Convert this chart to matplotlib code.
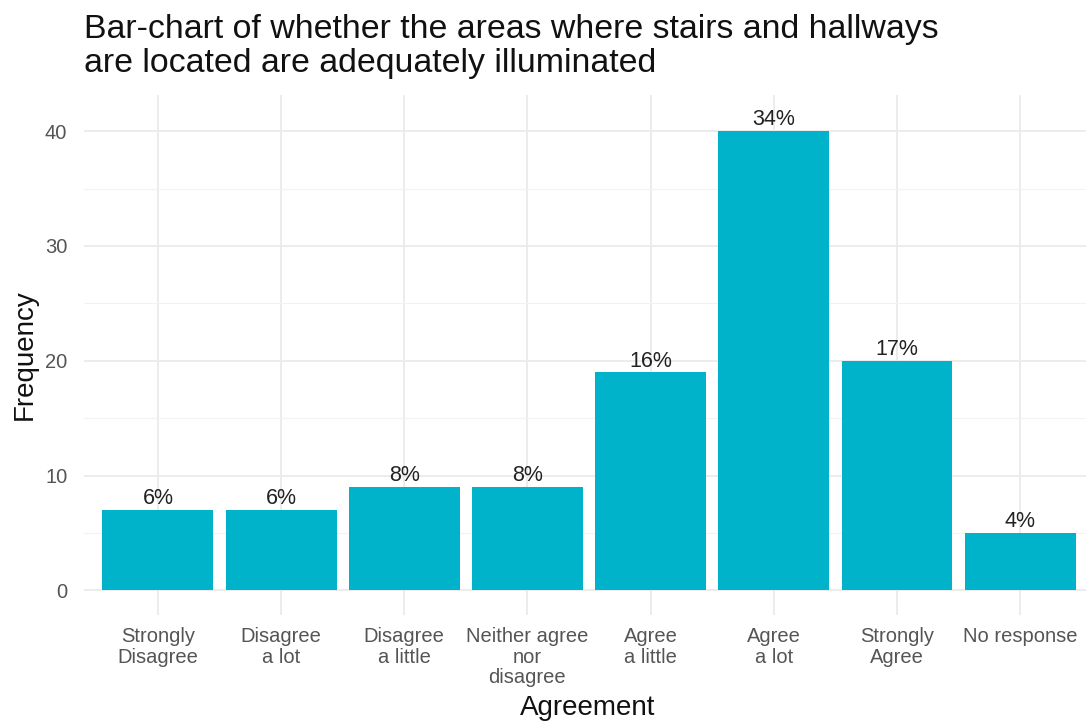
import matplotlib
matplotlib.use("Agg")
import matplotlib.pyplot as plt
import numpy as np

plt.rcParams['font.family'] = ['Liberation Sans', 'DejaVu Sans']

categories = ["Strongly\nDisagree", "Disagree\na lot", "Disagree\na little",
              "Neither agree\nnor\ndisagree", "Agree\na little", "Agree\na lot",
              "Strongly\nAgree", "No response"]
counts = [7, 7, 9, 9, 19, 40, 20, 5]
pct_labels = ["6%", "6%", "8%", "8%", "16%", "34%", "17%", "4%"]
y_ticks = [0, 10, 20, 30, 40]
y_minor = [5, 15, 25, 35]

W, H = 1086, 722
fig = plt.figure(figsize=(W / 100, H / 100), dpi=100)
# panel in pixel coords: left 84, right 1094, top 95, bottom 615
L, R, T, B = 84, 1094, 95, 615
ax = fig.add_axes([L / W, (H - B) / H, (R - L) / W, (B - T) / H])

x = np.arange(len(categories))
ax.bar(x, counts, width=0.9, color='#00B2CA', zorder=3)
for xi, v, lab in zip(x, counts, pct_labels):
    ax.annotate(lab, (xi, v), xytext=(0, 0.5), textcoords='offset points',
                ha='center', va='bottom', fontsize=15.5, color='#222222', zorder=4)

ax.set_xlim(-0.6, len(categories) - 0.4)
ax.set_ylim(-2.15, 43.15)
ax.set_xticks(x)
ax.set_xticklabels(categories, fontsize=14.5, color='#555555', linespacing=1.08)
ax.set_yticks(y_ticks)
ax.set_yticks(y_minor, minor=True)
ax.set_yticklabels([str(t) for t in y_ticks], fontsize=14.5, color='#555555')
ax.tick_params(axis='both', which='both', length=0)
ax.tick_params(axis='x', pad=9)
ax.tick_params(axis='y', pad=12)

ax.grid(True, which='major', axis='both', color='#EBEBEB', linewidth=1.3, zorder=0)
ax.grid(True, which='minor', axis='y', color='#F2F2F2', linewidth=0.8, zorder=0)
for s in ax.spines.values():
    s.set_visible(False)

fig.text(84 / W, 1 - 14 / H,
         "Bar-chart of whether the areas where stairs and hallways\nare located are adequately illuminated",
         ha='left', va='top', fontsize=24.4, color='#111111', linespacing=1.13)
fig.text(588 / W, 1 - 708 / H, "Agreement", ha='center', va='center',
         fontsize=20, color='#111111')
fig.text(25 / W, 1 - 355 / H, "Frequency", ha='center', va='center',
         rotation=90, fontsize=20, color='#111111')

fig.savefig("out.png", dpi=100)
